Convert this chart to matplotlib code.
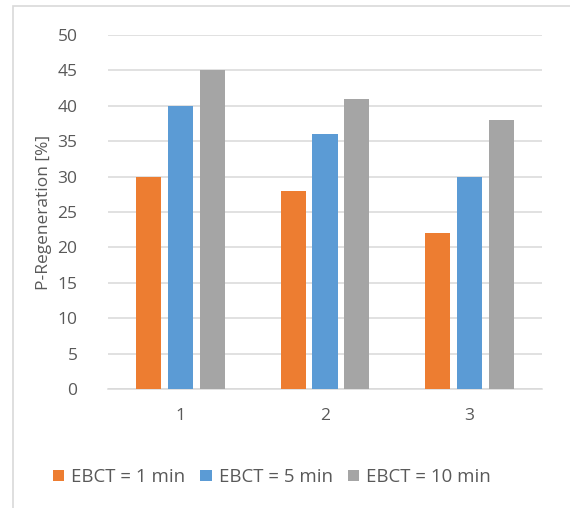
import numpy as np
import matplotlib.pyplot as plt
from matplotlib.patches import Rectangle

categories = ["1", "2", "3"]
series_names = ["EBCT = 1 min", "EBCT = 5 min", "EBCT = 10 min"]
values = {
    "EBCT = 1 min": [30, 28, 22],
    "EBCT = 5 min": [40, 36, 30],
    "EBCT = 10 min": [45, 41, 38],
}
colors = ["#ED7D31", "#5B9BD5", "#A5A5A5"]
yticks = [0, 5, 10, 15, 20, 25, 30, 35, 40, 45, 50]

plt.rcParams["font.family"] = ["Open Sans", "DejaVu Sans"]
text_col = "#595959"

W, H = 570, 508
fig = plt.figure(figsize=(W / 100, H / 100), dpi=100)
# plot area in pixels: x 108..542, y 35..389
ax = fig.add_axes([108 / W, 1 - 389 / H, (542 - 108) / W, (389 - 35) / H])

# chart border (only top and left visible in the reference)
fig.patches.append(Rectangle((13 / W, -0.1), 1.2, 1 - 6 / H + 0.1,
                             transform=fig.transFigure, fill=False,
                             edgecolor="#D9D9D9", linewidth=1.2))

x = np.arange(len(categories))
bw = 0.173
step = 0.221
for i, name in enumerate(series_names):
    ax.bar(x + (i - 1) * step, values[name], width=bw, color=colors[i],
           label=name, zorder=3)

ax.set_xlim(-0.5, len(categories) - 0.5)
ax.set_ylim(0, 50)
ax.set_yticks(yticks)
ax.set_xticks(x)
ax.set_xticklabels(categories)
ax.yaxis.grid(True, color="#D9D9D9", linewidth=1.1, zorder=0)
for s in ["top", "right", "left"]:
    ax.spines[s].set_visible(False)
ax.spines["bottom"].set_color("#D9D9D9")
ax.spines["bottom"].set_linewidth(1.1)
ax.tick_params(axis="both", length=0, labelsize=12.5, labelcolor=text_col)
ax.tick_params(axis="y", pad=22)
ax.tick_params(axis="x", pad=14)
ax.set_ylabel("P-Regeneration [%]", fontsize=12.5, color=text_col, labelpad=4)

fig.legend(loc="center", bbox_to_anchor=(272 / W, 1 - 477 / H), ncol=3,
           frameon=False, fontsize=13.4, labelcolor=text_col,
           handlelength=0.6, handleheight=0.6, handletextpad=0.4,
           columnspacing=0.8)

fig.savefig("out.png", dpi=100)
